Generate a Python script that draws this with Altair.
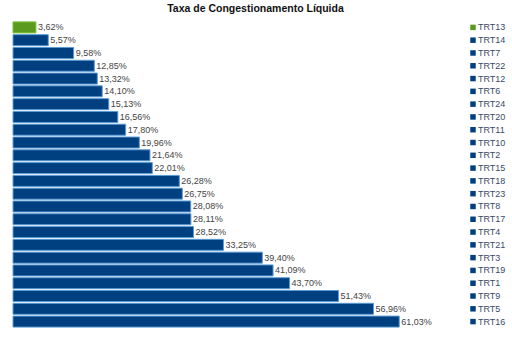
import altair as alt
import pandas as pd

categories = ["TRT13", "TRT14", "TRT7", "TRT22", "TRT12", "TRT6", "TRT24", "TRT20",
              "TRT11", "TRT10", "TRT2", "TRT15", "TRT18", "TRT23", "TRT8", "TRT17",
              "TRT4", "TRT21", "TRT3", "TRT19", "TRT1", "TRT9", "TRT5", "TRT16"]
values = [3.62, 5.57, 9.58, 12.85, 13.32, 14.10, 15.13, 16.56,
          17.80, 19.96, 21.64, 22.01, 26.28, 26.75, 28.08, 28.11,
          28.52, 33.25, 39.40, 41.09, 43.70, 51.43, 56.96, 61.03]
highlight = ["TRT13"]

GREEN = "#5a9a1e"
BLUE = "#003f80"

df = pd.DataFrame({"cat": categories, "val": values})
df["label"] = [f"{v:.2f}".replace(".", ",") + "%" for v in values]
df["grp"] = ["g" if c in highlight else "b" for c in categories]

y = alt.Y("cat:N", sort=categories, axis=None,
          scale=alt.Scale(paddingInner=0.14, paddingOuter=0.07))
color = alt.Color("grp:N", scale=alt.Scale(domain=["g", "b"], range=[GREEN, BLUE]), legend=None)
stroke = alt.Stroke("grp:N", scale=alt.Scale(domain=["g", "b"], range=["#7bbf3a", "#5b9bd5"]), legend=None)

base = alt.Chart(df)

bars = base.mark_bar(strokeWidth=1).encode(
    x=alt.X("val:Q", scale=alt.Scale(domain=[0, 70]), axis=None),
    y=y, color=color, stroke=stroke,
)

labels = base.mark_text(align="left", baseline="middle", dx=2, fontSize=9,
                        font="Liberation Sans", color="#444444").encode(
    x="val:Q", y=y, text="label:N")

leg_sym = base.mark_square(size=30, opacity=1).encode(
    x=alt.value(460), y=y, color=color)
leg_txt = base.mark_text(align="left", baseline="middle", fontSize=9,
                         font="Liberation Sans", color="#3a4a66").encode(
    x=alt.value(465), y=y, text="cat:N")

chart = alt.layer(bars, labels, leg_sym, leg_txt).properties(
    width=443, height=307,
    autosize=alt.AutoSizeParams(type="none"),
    padding={"left": 13, "top": 21, "right": 56, "bottom": 17},
    title=alt.TitleParams("Taxa de Congestionamento Líquida", font="Liberation Sans",
                          fontSize=10.5, fontWeight="bold", color="#111111",
                          anchor="middle", dx=21, offset=7),
).configure_view(stroke=None)

chart.save("out.html", embed_options={"renderer": "svg", "actions": False})
